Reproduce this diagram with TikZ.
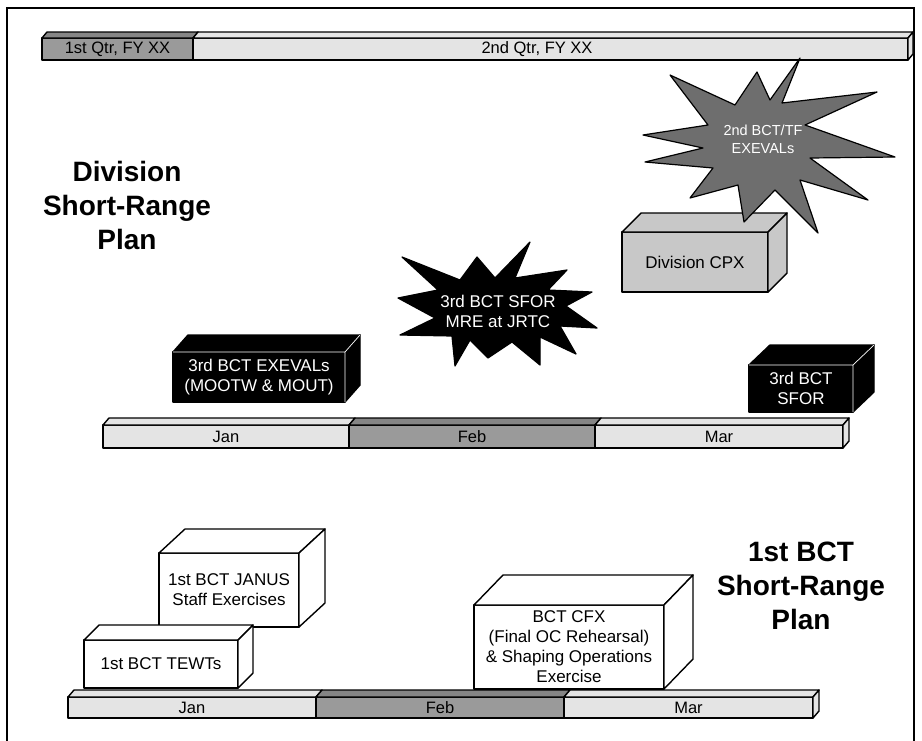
\documentclass[tikz,border=0pt]{standalone}
\usepackage{fontspec}
\setmainfont{Liberation Sans}
\usetikzlibrary{calc}
\definecolor{barlight}{HTML}{E4E4E4}
\definecolor{bardark}{HTML}{9A9A9A}
\definecolor{bardarktop}{HTML}{858585}
\definecolor{cpxgray}{HTML}{C8C8C8}
\definecolor{burstgray}{HTML}{6E6E6E}
\newcommand\topface[4]{\draw[edge,fill=#4] (#1.north west) -- ++(#2,#3) -- ([shift={(#2,#3)}]#1.north east) -- (#1.north east) -- cycle;}
\newcommand\sideface[4]{\draw[edge,fill=#4] (#1.north east) -- ++(#2,#3) -- ([shift={(#2,#3)}]#1.south east) -- (#1.south east) -- cycle;}
\newcommand\whiteedges[3]{\draw[white,line width=0.7pt] (#1.north west) -- (#1.north east) -- (#1.south east) (#1.north east) -- ++(#2,#3);}
\begin{document}
\begin{tikzpicture}[x=1pt,y=-1pt,
  edge/.style={draw=black,line width=1.4pt,line join=round},
  seg/.style={edge,rectangle,inner sep=0pt,outer sep=0pt,font=\fontsize{16.5}{18}\selectfont},
  front/.style={edge,rectangle,inner sep=0pt,outer sep=0pt,align=center,font=\fontsize{17}{20}\selectfont},
  bursttext/.style={align=center,text=white},
  title/.style={align=center,font=\bfseries\fontsize{28}{34}\selectfont}]
\useasboundingbox (0,0) rectangle (922,740);
\fill[white] (0,0) rectangle (922,740);
\draw[line width=2.5pt] (7,8) rectangle (914,780);

% top quarter bar
\node[seg,fill=bardark,minimum width=151,minimum height=22] (q1) at (117.5,49) {};
\node[seg,fill=barlight,minimum width=715,minimum height=22] (q2) at (550.5,49) {};
\topface{q1}{5}{-6}{bardarktop}
\topface{q2}{5}{-6}{barlight}
\sideface{q2}{5}{-6}{barlight}
\node[font=\fontsize{16.5}{18}\selectfont] (q1t) at (q1) {1st Qtr, FY XX};
\node[font=\fontsize{16.5}{18}\selectfont] (q2t) at (537,49) {2nd Qtr, FY XX};

% division bar
\node[seg,fill=barlight,minimum width=246,minimum height=23] (djan) at (226,436.5) {Jan};
\node[seg,fill=bardark,minimum width=246,minimum height=23] (dfeb) at (472,436.5) {Feb};
\node[seg,fill=barlight,minimum width=248,minimum height=23] (dmar) at (719,436.5) {Mar};
\topface{djan}{6}{-7}{barlight}
\topface{dfeb}{6}{-7}{bardarktop}
\topface{dmar}{6}{-7}{barlight}
\sideface{dmar}{6}{-7}{barlight}

% BCT bar
\node[seg,fill=barlight,minimum width=248,minimum height=21] (bjan) at (192,707.5) {Jan};
\node[seg,fill=bardark,minimum width=248,minimum height=21] (bfeb) at (440,707.5) {Feb};
\node[seg,fill=barlight,minimum width=249,minimum height=21] (bmar) at (688.5,707.5) {Mar};
\topface{bjan}{6}{-7}{barlight}
\topface{bfeb}{6}{-7}{bardarktop}
\topface{bmar}{6}{-7}{barlight}
\sideface{bmar}{6}{-7}{barlight}

% titles
\node[title] (divtitle) at (127,205) {Division\\Short-Range\\Plan};
\node[title] (bcttitle) at (801,586) {1st BCT\\Short-Range\\Plan};

% division boxes
\node[front,fill=black,text=white,minimum width=172,minimum height=50] (exeval) at (259,377) {3rd BCT EXEVALs\\(MOOTW \& MOUT)};
\topface{exeval}{15}{-17}{black}
\sideface{exeval}{15}{-17}{black}
\whiteedges{exeval}{15}{-17}

\node[front,fill=black,text=white,minimum width=104,minimum height=47] (sfor) at (801,388.5) {3rd BCT\\SFOR};
\topface{sfor}{21}{-20}{black}
\sideface{sfor}{21}{-20}{black}
\whiteedges{sfor}{21}{-20}

\node[front,fill=cpxgray,minimum width=146,minimum height=60] (cpx) at (695,262) {Division CPX};
\topface{cpx}{19}{-19}{cpxgray}
\sideface{cpx}{19}{-19}{cpxgray}

% BCT boxes
\node[front,fill=white,minimum width=140,minimum height=74] (janus) at (229,590) {1st BCT JANUS\\Staff Exercises};
\topface{janus}{26}{-24}{white}
\sideface{janus}{26}{-24}{white}
\node[front,fill=white,minimum width=154,minimum height=48] (tewt) at (161,664) {1st BCT TEWTs};
\topface{tewt}{15}{-15}{white}
\sideface{tewt}{15}{-15}{white}
\node[front,fill=white,minimum width=190,minimum height=84] (cfx) at (569,647) {BCT CFX\\(Final OC Rehearsal)\\\& Shaping Operations\\Exercise};
\topface{cfx}{29}{-30}{white}
\sideface{cfx}{29}{-30}{white}

% starbursts
\draw[edge,line width=1.2pt,fill=burstgray] (800,58) -- (782,103) -- (877,92) -- (805,125) -- (895,157) -- (810,158) -- (868,200) -- (800,180) -- (818,233) -- (775,190) -- (744,222) -- (738,185) -- (690,198) -- (713,168) -- (645,162) -- (703,148) -- (643,135) -- (708,125) -- (670,75) -- (735,105) -- (757,72) -- (770,100) -- cycle;
\node[bursttext,font=\fontsize{14.5}{18}\selectfont] (tf) at (763,139) {2nd BCT/TF\\EXEVALs};

\draw[edge,line width=1.2pt,fill=black] (530,242) -- (515,278) -- (567,270) -- (548,290) -- (592,292) -- (566,306) -- (597,328) -- (560,326) -- (576,354) -- (540,337) -- (540,365) -- (512,342) -- (488,358) -- (470,340) -- (455,366) -- (452,336) -- (400,335) -- (435,318) -- (398,298) -- (438,290) -- (402,257) -- (460,280) -- (477,257) -- (495,278) -- cycle;
\node[bursttext,font=\fontsize{17}{20}\selectfont] (mre) at (498,311) {3rd BCT SFOR\\MRE at JRTC};
\end{tikzpicture}
\end{document}
